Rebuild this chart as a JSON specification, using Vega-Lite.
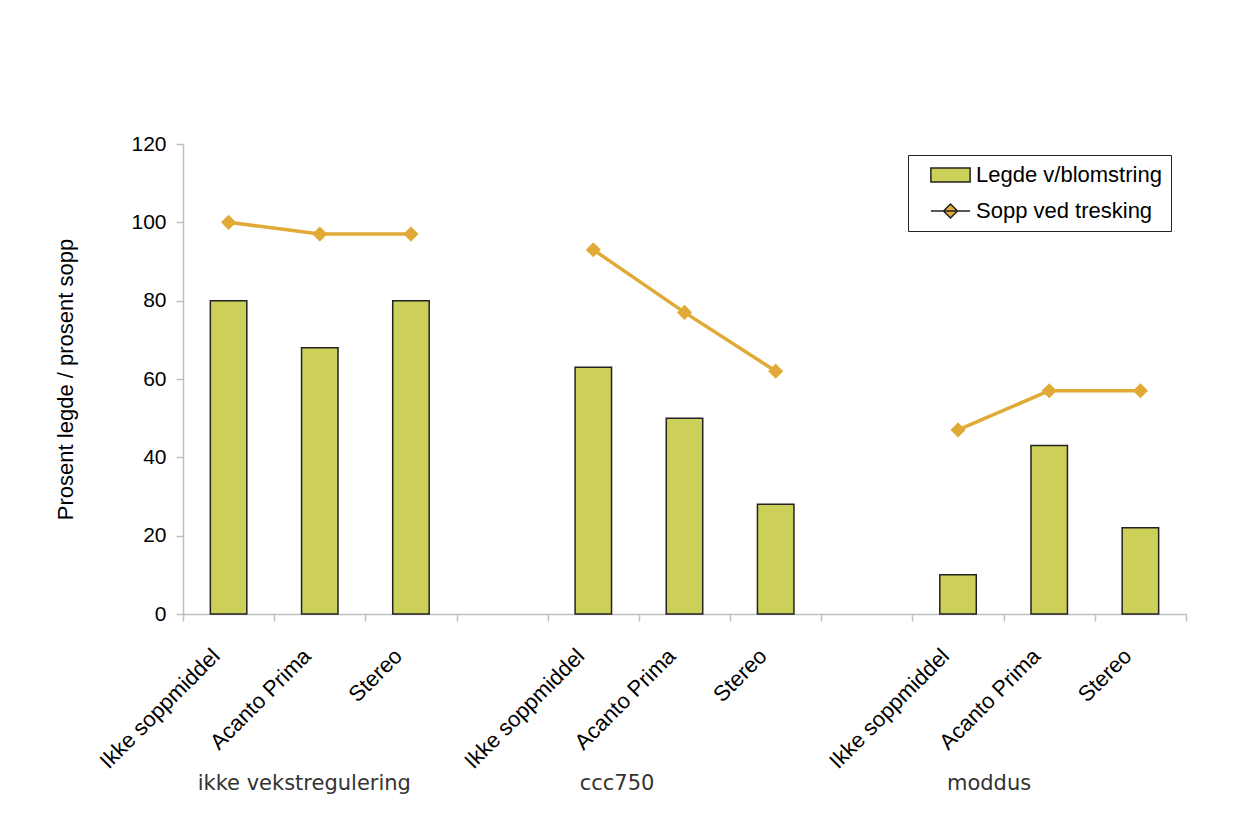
{
  "$schema": "https://vega.github.io/schema/vega-lite/v6.json",
  "width": 1003,
  "height": 470,
  "autosize": {"type": "none"},
  "padding": {"left": 183, "top": 144, "right": 71, "bottom": 204},
  "background": "white",
  "config": {
    "view": {"stroke": null},
    "font": "Liberation Sans",
    "axis": {
      "domainColor": "#BFBFBF",
      "tickColor": "#BFBFBF",
      "domainWidth": 1.5,
      "tickWidth": 1.5,
      "tickSize": 7,
      "grid": false,
      "labelFont": "Liberation Sans",
      "labelFontSize": 21,
      "labelColor": "black",
      "titleFont": "Liberation Sans",
      "titleFontSize": 22,
      "titleFontWeight": "normal",
      "titleColor": "black"
    }
  },
  "data": {
    "values": [
      {"key": "ikke vekstregulering|Ikke soppmiddel", "group": "ikke vekstregulering", "legde": 80, "sopp": 100},
      {"key": "ikke vekstregulering|Acanto Prima", "group": "ikke vekstregulering", "legde": 68, "sopp": 97},
      {"key": "ikke vekstregulering|Stereo", "group": "ikke vekstregulering", "legde": 80, "sopp": 97},
      {"key": "ccc750|Ikke soppmiddel", "group": "ccc750", "legde": 63, "sopp": 93},
      {"key": "ccc750|Acanto Prima", "group": "ccc750", "legde": 50, "sopp": 77},
      {"key": "ccc750|Stereo", "group": "ccc750", "legde": 28, "sopp": 62},
      {"key": "moddus|Ikke soppmiddel", "group": "moddus", "legde": 10, "sopp": 47},
      {"key": "moddus|Acanto Prima", "group": "moddus", "legde": 43, "sopp": 57},
      {"key": "moddus|Stereo", "group": "moddus", "legde": 22, "sopp": 57}
    ]
  },
  "layer": [
    {
      "mark": {"type": "bar", "width": {"band": 0.4}, "stroke": "#222222", "strokeWidth": 1.5},
      "encoding": {
        "x": {
          "field": "key",
          "type": "nominal",
          "sort": null,
          "scale": {
            "domain": [
              "ikke vekstregulering|Ikke soppmiddel",
              "ikke vekstregulering|Acanto Prima",
              "ikke vekstregulering|Stereo",
              "gap1",
              "ccc750|Ikke soppmiddel",
              "ccc750|Acanto Prima",
              "ccc750|Stereo",
              "gap2",
              "moddus|Ikke soppmiddel",
              "moddus|Acanto Prima",
              "moddus|Stereo"
            ],
            "paddingInner": 0,
            "paddingOuter": 0
          },
          "axis": {
            "orient": "bottom",
            "title": null,
            "labelAngle": -45,
            "labelAlign": "right",
            "labelBaseline": "alphabetic",
            "labelFontSize": 22,
            "labelPadding": 36,
            "labelOffset": -8,
            "tickBand": "extent",
            "labelExpr": "isString(datum.value) && indexof(datum.value, '|') >= 0 ? split(datum.value, '|')[1] : ''"
          }
        },
        "y": {
          "field": "legde",
          "type": "quantitative",
          "scale": {"domain": [0, 120]},
          "axis": {
            "values": [0, 20, 40, 60, 80, 100, 120],
            "title": "Prosent legde / prosent sopp",
            "labelPadding": 10,
            "titlePadding": 53
          }
        },
        "color": {
          "datum": "Legde v/blomstring",
          "type": "nominal",
          "scale": {"domain": ["Legde v/blomstring", "Sopp ved tresking"], "range": ["#CCD058", "#E1AA36"]},
          "legend": {
            "orient": "none",
            "legendX": 725,
            "legendY": 11,
            "title": null,
            "direction": "vertical",
            "padding": 9,
            "strokeColor": "#222222",
            "fillColor": "white",
            "labelFont": "Liberation Sans",
            "labelFontSize": 22,
            "labelColor": "black",
            "labelLimit": 400,
            "symbolType": "M-2.8,-0.8H2.8V0.8H-2.8Z",
            "symbolSize": 196,
            "symbolOffset": 22.5,
            "labelOffset": 14.5,
            "rowPadding": 14,
            "encode": {
              "symbols": {
                "stroke": {"value": {"expr": "datum.value === 'Legde v/blomstring' ? '#222222' : '#E1AA36'"}},
                "strokeWidth": {"value": {"expr": "datum.value === 'Legde v/blomstring' ? 1.5 : 3.5"}},
                "opacity": {"value": 1},
                "fillOpacity": {"value": 1},
                "strokeOpacity": {"value": 1}
              }
            }
          }
        }
      }
    },
    {
      "mark": {"type": "line", "strokeWidth": 3.5, "color": "#E1AA36"},
      "encoding": {
        "x": {"field": "key", "type": "nominal", "sort": null},
        "y": {"field": "sopp", "type": "quantitative"},
        "detail": {"field": "group"}
      }
    },
    {
      "mark": {"type": "point", "filled": true, "size": 230, "opacity": 1},
      "encoding": {
        "x": {"field": "key", "type": "nominal", "sort": null},
        "y": {"field": "sopp", "type": "quantitative"},
        "color": {"datum": "Sopp ved tresking", "type": "nominal"},
        "shape": {
          "datum": "Sopp ved tresking",
          "type": "nominal",
          "scale": {
            "domain": ["Legde v/blomstring", "Sopp ved tresking"],
            "range": ["M-2.8,-1H2.8V1H-2.8Z", "M-2.8,0H2.8M0,-1L1,0L0,1L-1,0Z"]
          },
          "legend": {
            "orient": "none",
            "legendX": 725,
            "legendY": 11,
            "title": null,
            "direction": "vertical",
            "padding": 9,
            "strokeColor": "#222222",
            "fillColor": "white",
            "labelFont": "Liberation Sans",
            "labelFontSize": 22,
            "labelColor": "black",
            "labelLimit": 400,
            "symbolSize": 196,
            "symbolOffset": 22.5,
            "labelOffset": 14.5,
            "rowPadding": 14
          }
        }
      }
    },
    {
      "transform": [{"filter": "datum.key === 'ikke vekstregulering|Acanto Prima'"}],
      "mark": {"type": "text", "font": "DejaVu Sans", "fontSize": 21, "color": "#333333", "align": "center", "baseline": "middle"},
      "encoding": {
        "x": {"field": "key", "type": "nominal", "sort": null, "bandPosition": 0.33},
        "y": {"datum": -43.5, "type": "quantitative"},
        "text": {"field": "group"}
      }
    },
    {
      "transform": [{"filter": "datum.key === 'ccc750|Ikke soppmiddel'"}],
      "mark": {"type": "text", "font": "DejaVu Sans", "fontSize": 21, "color": "#333333", "align": "center", "baseline": "middle"},
      "encoding": {
        "x": {"field": "key", "type": "nominal", "sort": null, "bandPosition": 0.76},
        "y": {"datum": -43.5, "type": "quantitative"},
        "text": {"field": "group"}
      }
    },
    {
      "transform": [{"filter": "datum.key === 'moddus|Ikke soppmiddel'"}],
      "mark": {"type": "text", "font": "DejaVu Sans", "fontSize": 21, "color": "#333333", "align": "center", "baseline": "middle"},
      "encoding": {
        "x": {"field": "key", "type": "nominal", "sort": null, "bandPosition": 0.84},
        "y": {"datum": -43.5, "type": "quantitative"},
        "text": {"field": "group"}
      }
    }
  ]
}
